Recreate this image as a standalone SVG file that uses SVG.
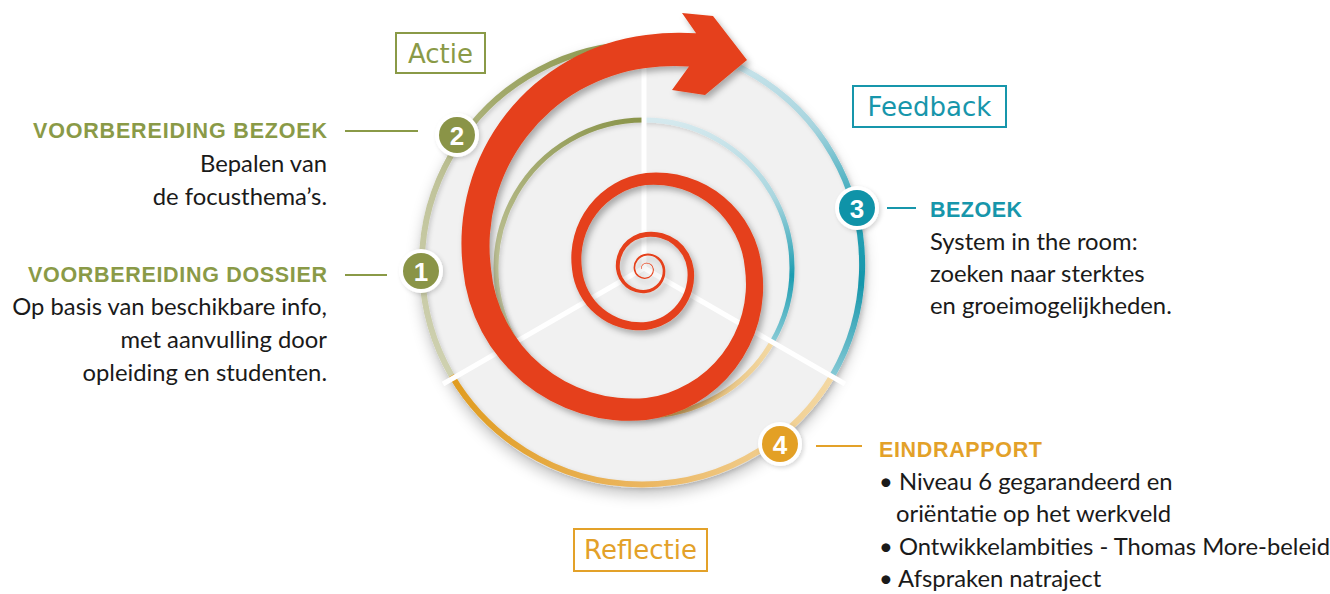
<svg xmlns="http://www.w3.org/2000/svg" width="1330" height="594" viewBox="0 0 1330 594">
<style>
.body{font-family:Lato,'Liberation Sans',sans-serif;font-size:23.8px;fill:#1a1a1a}
.hd{font-family:'Liberation Sans',Arial,sans-serif;font-size:21.5px;font-weight:700}
.olive{fill:#8a9a47}.teal{fill:#1796ab}.orange{fill:#e3a129}
.box{fill:#fff;stroke-width:2}
.boxt{font-family:'DejaVu Sans',sans-serif;font-size:26px;text-anchor:middle}
.lead{stroke-width:2;fill:none}
.ring{fill:none;stroke-width:6}
.iring{fill:none;stroke-width:5}
.spoke{stroke:#fff;stroke-width:5}
.num{font-family:'Liberation Sans',Arial,sans-serif;font-size:26px;font-weight:700;fill:#fff;text-anchor:middle}
</style>
<defs>
<filter id="dsh" x="-20%" y="-20%" width="140%" height="140%"><feDropShadow dx="0" dy="7" stdDeviation="7" flood-color="#000" flood-opacity="0.22"/></filter>
<filter id="sh" x="-20%" y="-20%" width="140%" height="140%"><feDropShadow dx="3" dy="4" stdDeviation="3" flood-color="#000" flood-opacity="0.3"/></filter>
<filter id="rsh" x="-20%" y="-20%" width="140%" height="140%"><feDropShadow dx="2" dy="2" stdDeviation="2" flood-color="#000" flood-opacity="0.15"/></filter>
<linearGradient id="og" gradientUnits="userSpaceOnUse" x1="450" y1="380" x2="620" y2="44"><stop offset="0" stop-color="#cfd1b1"/><stop offset="0.45" stop-color="#c0c39a"/><stop offset="0.72" stop-color="#a3aa6c"/><stop offset="1" stop-color="#8f9a52"/></linearGradient>
<linearGradient id="ob" gradientUnits="userSpaceOnUse" x1="700" y1="44" x2="700" y2="376"><stop offset="0" stop-color="#d3e8ee"/><stop offset="0.25" stop-color="#a6d4de"/><stop offset="0.5" stop-color="#2aa3b6"/><stop offset="0.72" stop-color="#1696ab"/><stop offset="1" stop-color="#86c9d5"/></linearGradient>
<linearGradient id="oo" gradientUnits="userSpaceOnUse" x1="450" y1="0" x2="832" y2="0"><stop offset="0" stop-color="#e09c20"/><stop offset="0.5" stop-color="#ebb660"/><stop offset="1" stop-color="#f3d8a3"/></linearGradient>
<linearGradient id="ig" gradientUnits="userSpaceOnUse" x1="500" y1="320" x2="644" y2="120"><stop offset="0" stop-color="#c9cba6"/><stop offset="1" stop-color="#8a944a"/></linearGradient>
<linearGradient id="ib" gradientUnits="userSpaceOnUse" x1="700" y1="120" x2="700" y2="342"><stop offset="0" stop-color="#d5e9ee"/><stop offset="0.35" stop-color="#a9d6df"/><stop offset="0.7" stop-color="#1c9db1"/><stop offset="1" stop-color="#8acbd6"/></linearGradient>
<linearGradient id="io" gradientUnits="userSpaceOnUse" x1="772" y1="342" x2="600" y2="412"><stop offset="0" stop-color="#f3d9a4"/><stop offset="1" stop-color="#d8a148"/></linearGradient>
</defs>

<g id="disk">
<circle cx="642" cy="265" r="223" fill="#f1f1f1" filter="url(#dsh)"/>
</g>

<g id="rings" filter="url(#rsh)">
<path class="ring" stroke="url(#og)" d="M451.5 375.5 A221 221 0 0 1 642 44"/>
<path class="ring" stroke="url(#ob)" d="M642 44 A221 221 0 0 1 832.5 375.5"/>
<path class="ring" stroke="url(#oo)" d="M832.5 375.5 A221 221 0 0 1 451.5 375.5"/>
<path class="iring" stroke="url(#ig)" d="M515.8 342 A148 148 0 0 1 644 120"/>
<path class="iring" stroke="url(#ib)" d="M644 120 A148 148 0 0 1 772.2 342"/>
<path class="iring" stroke="url(#io)" d="M772.2 342 A148 148 0 0 1 515.8 342"/>
</g>

<g id="spokes">
<line class="spoke" x1="644" y1="268" x2="644" y2="36"/>
<line class="spoke" x1="644" y1="268" x2="443" y2="384"/>
<line class="spoke" x1="644" y1="268" x2="845" y2="384"/>
</g>

<g id="spiral">
<path fill="#e5401a" filter="url(#sh)" d="M641 269 A5.69 5.69 0 0 1 646 262.7 A7.09 7.09 0 0 1 653.8 269 A8.86 8.86 0 0 1 646 278.8 A11.12 11.12 0 0 1 633.7 269 A13.88 13.88 0 0 1 646 253.7 A17.36 17.36 0 0 1 665.2 269 A21.73 21.73 0 0 1 646 293 A27.17 27.17 0 0 1 616 269 A33.68 33.68 0 0 1 646 232 A42.71 42.71 0 0 1 693.75 269 A54.78 54.78 0 0 1 646 330 A67.81 67.81 0 0 1 572 269 A85.71 85.71 0 0 1 646 173 A106.47 106.47 0 0 1 762 269 A134.64 134.64 0 0 1 646 420 A167.77 167.77 0 0 1 463 269 A210.05 210.05 0 0 1 646 35 A237 237 0 0 1 696.1 33.3 L682 13 L713 16 L747 60 L705 95 L672 90 L689 66.5 A204 204 0 0 0 646 68 A179.48 179.48 0 0 0 491 269 A142.6 142.6 0 0 0 646 398 A114.98 114.98 0 0 0 745 269 A91.81 91.81 0 0 0 646 185 A74.67 74.67 0 0 0 582 269 A58.76 58.76 0 0 0 646 322 A47.49 47.49 0 0 0 687.25 269 A36.92 36.92 0 0 0 646 237 A29.2 29.2 0 0 0 619.9 269 A23.6 23.6 0 0 0 646 289.8 A18.82 18.82 0 0 0 662.6 269 A15.04 15.04 0 0 0 646 255.7 A12.07 12.07 0 0 0 635.3 269 A9.71 9.71 0 0 0 646 277.6 A7.75 7.75 0 0 0 652.8 269 A6.18 6.18 0 0 0 646 263.5 A4.98 4.98 0 0 0 641.6 269 Z"/>
</g>

<g id="connectors">
<line class="lead" stroke="#8a9a47" x1="345" y1="131" x2="418" y2="131"/>
<line class="lead" stroke="#8a9a47" x1="345" y1="275" x2="387" y2="275"/>
<line class="lead" stroke="#1796ab" x1="887" y1="208" x2="916" y2="208"/>
<line class="lead" stroke="#e3a129" x1="816" y1="446" x2="862" y2="446"/>
</g>

<g id="step1">
<circle cx="421" cy="271" r="22" fill="#fff" filter="url(#rsh)"/>
<circle cx="421" cy="271" r="18" fill="#8a9447"/>
<text class="num" x="421" y="280.5">1</text>
<text class="hd olive" x="327" y="282" text-anchor="end" textLength="299">VOORBEREIDING DOSSIER</text>
<text class="body" x="327" y="315" text-anchor="end">Op basis van beschikbare info,</text>
<text class="body" x="327" y="348" text-anchor="end">met aanvulling door</text>
<text class="body" x="327" y="381" text-anchor="end">opleiding en studenten.</text>
</g>

<g id="step2">
<circle cx="457" cy="135" r="22" fill="#fff" filter="url(#rsh)"/>
<circle cx="457" cy="135" r="18" fill="#8a9447"/>
<text class="num" x="457" y="144.5">2</text>
<text class="hd olive" x="327" y="138" text-anchor="end" textLength="294">VOORBEREIDING BEZOEK</text>
<text class="body" x="327" y="172" text-anchor="end">Bepalen van</text>
<text class="body" x="327" y="205" text-anchor="end">de focusthema’s.</text>
</g>

<g id="step3">
<circle cx="857" cy="208" r="22" fill="#fff" filter="url(#rsh)"/>
<circle cx="857" cy="208" r="18" fill="#0f93a8"/>
<text class="num" x="857" y="217.5">3</text>
<text class="hd teal" x="930" y="217" textLength="92">BEZOEK</text>
<text class="body" x="930" y="250">System in the room:</text>
<text class="body" x="930" y="282">zoeken naar sterktes</text>
<text class="body" x="930" y="314">en groeimogelijkheden.</text>
</g>

<g id="step4">
<circle cx="780" cy="444" r="22" fill="#fff" filter="url(#rsh)"/>
<circle cx="780" cy="444" r="18" fill="#e3a025"/>
<text class="num" x="780" y="453.5">4</text>
<text class="hd orange" x="879" y="457" textLength="163">EINDRAPPORT</text>
<text class="body" x="879" y="490">• Niveau 6 gegarandeerd en</text>
<text class="body" x="896" y="522">oriëntatie op het werkveld</text>
<text class="body" x="879" y="555">• Ontwikkelambities - Thomas More-beleid</text>
<text class="body" x="879" y="587">• Afspraken natraject</text>
</g>

<g id="label-actie">
<rect class="box" stroke="#8a9a47" x="396" y="33" width="89" height="40"/>
<text class="boxt olive" x="440.5" y="63">Actie</text>
</g>
<g id="label-feedback">
<rect class="box" stroke="#1796ab" x="853" y="86" width="153" height="41"/>
<text class="boxt teal" x="929.5" y="116">Feedback</text>
</g>
<g id="label-reflectie">
<rect class="box" stroke="#e3a129" x="574" y="529" width="133" height="42"/>
<text class="boxt orange" x="640.5" y="559">Reflectie</text>
</g>
</svg>
